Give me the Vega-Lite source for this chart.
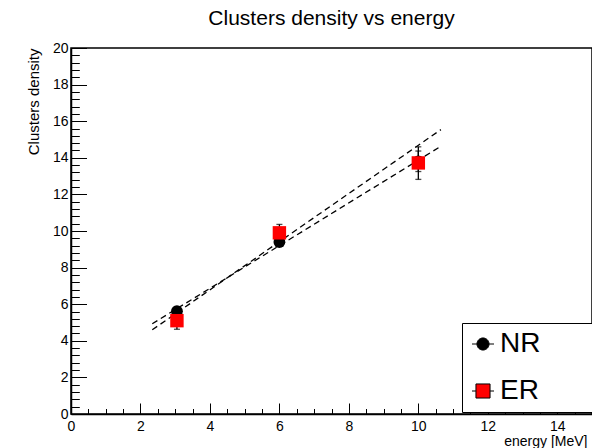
{
  "$schema": "https://vega.github.io/schema/vega-lite/v6.json",
  "autosize": "none",
  "width": 521,
  "height": 366,
  "padding": {"left": 71, "top": 48, "right": 0, "bottom": 34},
  "background": "white",
  "config": {
    "font": "Liberation Sans",
    "view": {"stroke": "black", "strokeWidth": 1.5},
    "axis": {"grid": false, "domainColor": "black", "domainWidth": 1.5, "tickColor": "black", "tickWidth": 1, "labelColor": "black", "titleColor": "black", "labelFont": "Liberation Sans", "titleFont": "Liberation Sans", "titleFontWeight": "normal", "labelOverlap": false, "labelFlush": false, "format": "d"}
  },
  "title": {"text": "Clusters density vs energy", "fontSize": 21, "font": "Liberation Sans", "fontWeight": "normal", "color": "black", "anchor": "middle", "baseline": "alphabetic", "offset": -5},
  "datasets": {
    "points": [
      {"series": "NR", "energy": 3.05, "density": 5.62, "lo": 5.42, "hi": 5.82},
      {"series": "NR", "energy": 6, "density": 9.4, "lo": 9.2, "hi": 9.6},
      {"series": "NR", "energy": 10, "density": 13.8, "lo": 13.25, "hi": 14.37},
      {"series": "ER", "energy": 3.05, "density": 5.1, "lo": 4.63, "hi": 5.57},
      {"series": "ER", "energy": 6, "density": 9.9, "lo": 9.45, "hi": 10.36},
      {"series": "ER", "energy": 10, "density": 13.72, "lo": 12.82, "hi": 14.6}
    ],
    "fits": [
      {"fit": "NR", "energy": 2.34, "density": 4.93},
      {"fit": "NR", "energy": 10.65, "density": 14.63},
      {"fit": "ER", "energy": 2.34, "density": 4.6},
      {"fit": "ER", "energy": 10.65, "density": 15.54}
    ]
  },
  "encoding": {
    "x": {"field": "energy", "type": "quantitative", "scale": {"domain": [0, 15], "nice": false, "zero": false},
      "axis": {
        "values": [0,0.5,1,1.5,2,2.5,3,3.5,4,4.5,5,5.5,6,6.5,7,7.5,8,8.5,9,9.5,10,10.5,11,11.5,12,12.5,13,13.5,14,14.5,15],
        "tickSize": {"condition": {"test": "datum.value % 2 === 0", "value": -11}, "value": -5.5},
        "labelExpr": "datum.value % 2 === 0 && datum.value < 15 ? datum.label : ''",
        "labelFontSize": 14, "labelPadding": 16, "labelBaseline": "top",
        "title": "energy [MeV]", "titleFontSize": 14, "titleAlign": "right", "titleX": 516, "titleY": 31, "titleBaseline": "alphabetic"
      }},
    "y": {"field": "density", "type": "quantitative", "scale": {"domain": [0, 20], "nice": false, "zero": false},
      "axis": {
        "values": [0,0.4,0.8,1.2,1.6,2,2.4,2.8,3.2,3.6,4,4.4,4.8,5.2,5.6,6,6.4,6.8,7.2,7.6,8,8.4,8.8,9.2,9.6,10,10.4,10.8,11.2,11.6,12,12.4,12.8,13.2,13.6,14,14.4,14.8,15.2,15.6,16,16.4,16.8,17.2,17.6,18,18.4,18.8,19.2,19.6,20],
        "tickSize": {"condition": {"test": "abs(datum.value/2 - round(datum.value/2)) < 0.001", "value": -15.5}, "value": -8.3},
        "labelExpr": "abs(datum.value/2 - round(datum.value/2)) < 0.001 ? datum.label : ''",
        "labelFontSize": 14, "labelPadding": 18.5,
        "title": "Clusters density", "titleFontSize": 15, "titleAngle": -90, "titleAlign": "right", "titleX": -33, "titleY": 0, "titleBaseline": "alphabetic"
      }}
  },
  "layer": [
    {
      "data": {"name": "fits"},
      "mark": {"type": "line", "color": "black", "strokeDash": [6, 4], "strokeWidth": 1.3, "clip": true},
      "encoding": {"detail": {"field": "fit", "type": "nominal"}}
    },
    {
      "data": {"name": "points"},
      "mark": {"type": "rule", "color": "black", "strokeWidth": 1.3},
      "encoding": {
        "y": {"field": "lo", "type": "quantitative"},
        "y2": {"field": "hi"}
      }
    },
    {
      "data": {"name": "points"},
      "mark": {"type": "tick", "color": "black", "orient": "horizontal", "size": 6, "thickness": 1.3},
      "encoding": {"y": {"field": "lo", "type": "quantitative"}}
    },
    {
      "data": {"name": "points"},
      "mark": {"type": "tick", "color": "black", "orient": "horizontal", "size": 6, "thickness": 1.3},
      "encoding": {"y": {"field": "hi", "type": "quantitative"}}
    },
    {
      "data": {"name": "points"},
      "transform": [{"filter": "datum.series === 'NR'"}],
      "mark": {"type": "point", "filled": true, "opacity": 1, "shape": "circle", "size": 140},
      "encoding": {
        "color": {"field": "series", "type": "nominal", "scale": {"domain": ["NR", "ER"], "range": ["black", "#ff0000"]},
          "legend": {
            "title": null, "orient": "none", "legendX": 391, "legendY": 275,
            "fillColor": "white", "strokeColor": "black", "padding": 7,
            "labelFontSize": 28, "labelFont": "Liberation Sans", "labelColor": "black", "labelOffset": 3, "rowPadding": 19, "labelLimit": 0,
            "symbolSize": 484, "symbolOpacity": 1, "symbolStrokeColor": "black", "symbolStrokeWidth": 1,
            "labelExpr": "datum.label + '\u00a0\u00a0\u00a0\u00a0\u00a0\u00a0\u00a0\u00a0\u00a0\u00a0\u200b'",
            "encode": {"symbols": {"update": {
              "shape": {"signal": "datum.value === 'NR' ? 'M-1,0H-0.55M0.55,0H1M-0.55,0A0.55,0.55,0,1,1,0.55,0A0.55,0.55,0,1,1,-0.55,0Z' : 'M-1,0H-0.64M0.64,0H1M-0.64,-0.64H0.64V0.64H-0.64Z'"},
              "stroke": {"value": "black"}
            }}}
          }}
      }
    },
    {
      "data": {"name": "points"},
      "transform": [{"filter": "datum.series === 'ER'"}],
      "mark": {"type": "point", "filled": true, "opacity": 1, "shape": "square", "size": 180},
      "encoding": {
        "color": {"field": "series", "type": "nominal"}
      }
    }
  ]
}
